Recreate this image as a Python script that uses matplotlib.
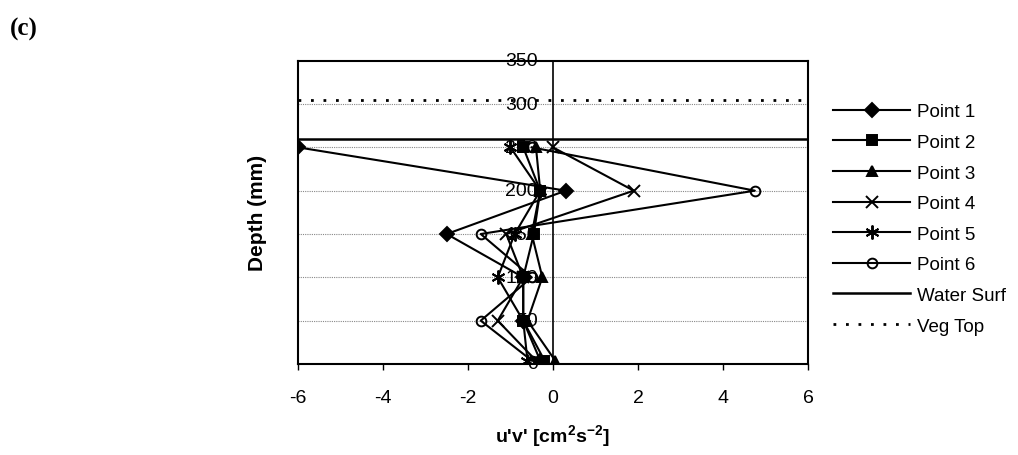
import matplotlib
matplotlib.use("Agg")
import matplotlib.pyplot as plt
import numpy as np

plt.rcParams['font.family'] = ['Liberation Sans', 'DejaVu Sans']
plt.rcParams['axes.unicode_minus'] = False
plt.rcParams['mathtext.fontset'] = 'custom'
plt.rcParams['mathtext.bf'] = 'Liberation Sans:bold'
plt.rcParams['mathtext.rm'] = 'Liberation Sans:bold'

# depth levels (mm) and u'v' values
depth = [4, 50, 100, 150, 200, 250]
p1 = [-0.3, -0.7, -0.7, -2.5, 0.3, -6.0]
p2 = [-0.2, -0.7, -0.7, -0.45, -0.3, -0.7]
p3 = [0.05, -0.6, -0.25, -0.5, -0.3, -0.4]
p4 = [-0.4, -1.3, -0.7, -1.1, 1.9, 0.0]
p5 = [-0.6, -0.7, -1.3, -0.9, -0.3, -1.0]
p6 = [-0.5, -1.7, -0.5, -1.7, 4.75, -0.5]

water_surf = 260
veg_top = 305

series = [
    ('Point 1', p1, 'D', 'k', 7),
    ('Point 2', p2, 's', 'k', 7),
    ('Point 3', p3, '^', 'k', 7.5),
    ('Point 4', p4, 'x', 'k', 8),
    ('Point 5', p5, (6, 2, 0), 'k', 10),
    ('Point 6', p6, 'o', 'none', 7),
]

fig = plt.figure(figsize=(10.18, 4.56), dpi=100)
ax = fig.add_axes([0.2927, 0.1996, 0.5010, 0.6651])

for y in [50, 100, 150, 200, 250, 300]:
    ax.axhline(y, color='#888888', lw=0.8, ls=(0, (1, 1)), zorder=1)

for name, vals, mk, fc, ms in series:
    ax.plot(vals, depth, color='k', lw=1.5, marker=mk, markersize=ms,
            markerfacecolor=fc, markeredgecolor='k', markeredgewidth=1.4,
            label=name, zorder=3)

ax.plot([-6, 6], [water_surf, water_surf], color='k', lw=1.8, label='Water Surf', zorder=2)
ax.plot([-6, 6], [veg_top, veg_top], color='k', lw=2, ls=(0, (1, 3.5)), label='Veg Top', zorder=2)

ax.set_xlim(-6, 6)
ax.set_ylim(0, 350)
ax.set_xticks(np.arange(-6, 7, 2))
ax.set_yticks(np.arange(0, 351, 50))

ax.axvline(0, color='k', lw=1.2, zorder=2)
for s in ['top', 'right', 'bottom', 'left']:
    ax.spines[s].set_linewidth(1.5)

# y tick labels sit beside the x=0 axis like in Excel
ax.tick_params(axis='y', length=0, labelleft=False)
for y in np.arange(0, 351, 50):
    ax.text(-0.35, y, str(y), ha='right', va='center', fontsize=14, zorder=4)

ax.tick_params(axis='x', direction='out', length=4, width=1, pad=14, labelsize=14)

ax.set_xlabel("u'v' [cm$^{2}$s$^{-2}$]", fontsize=14, fontweight='bold', labelpad=12)
ax.set_ylabel('Depth (mm)', fontsize=15, fontweight='bold', labelpad=22)

ax.legend(loc='upper left', bbox_to_anchor=(0.811, 0.788), bbox_transform=fig.transFigure,
          frameon=False, fontsize=13.5, handlelength=4.1, labelspacing=0.72,
          handletextpad=0.35, borderaxespad=0)

fig.text(0.010, 0.960, '(c)', fontsize=18, fontweight='bold', family='Liberation Serif',
         va='top', ha='left')

fig.savefig('out.png', dpi=100)
